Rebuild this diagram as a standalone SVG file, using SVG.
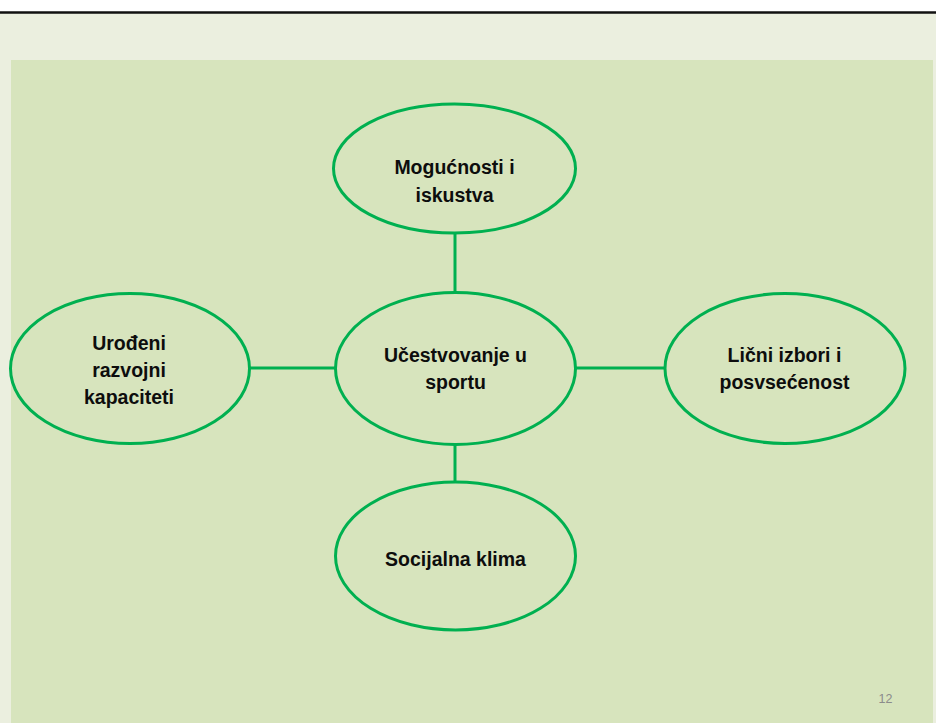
<svg xmlns="http://www.w3.org/2000/svg" width="936" height="723" viewBox="0 0 936 723">
<style>
.n ellipse{fill:#d7e4bd;stroke:#00b050;stroke-width:3}
.n text{font-family:"Liberation Sans",Arial,sans-serif;font-weight:bold;font-size:19.5px;fill:#0d0d0d;text-anchor:middle}
.c line{stroke:#00b050;stroke-width:3}
</style>
<rect x="0" y="0" width="936" height="723" fill="#ffffff"/>
<rect x="0" y="13" width="936" height="710" fill="#ebefdf"/>
<line x1="0" y1="12.5" x2="936" y2="12.5" stroke="#111" stroke-width="2.5"/>
<rect x="11" y="60" width="922" height="663" fill="#d7e4bd"/>
<g class="c" id="connectors">
<line x1="455" y1="233" x2="455" y2="292"/>
<line x1="455" y1="445" x2="455" y2="482"/>
<line x1="250" y1="368" x2="336" y2="368"/>
<line x1="575" y1="368" x2="665" y2="368"/>
</g>
<g class="n" id="node-top">
<ellipse cx="454.5" cy="168.5" rx="121" ry="64.5"/>
<text x="454.5" y="174">Mogućnosti i</text>
<text x="454.5" y="202">iskustva</text>
</g>
<g class="n" id="node-center">
<ellipse cx="455.5" cy="368.5" rx="120" ry="76"/>
<text x="455.5" y="362">Učestvovanje u</text>
<text x="455.5" y="389">sportu</text>
</g>
<g class="n" id="node-left">
<ellipse cx="130" cy="368.5" rx="119.5" ry="75"/>
<text x="129" y="350">Urođeni</text>
<text x="129" y="377">razvojni</text>
<text x="129" y="404">kapaciteti</text>
</g>
<g class="n" id="node-right">
<ellipse cx="785" cy="368.5" rx="120" ry="75"/>
<text x="784.5" y="362">Lični izbori i</text>
<text x="784.5" y="389">posvsećenost</text>
</g>
<g class="n" id="node-bottom">
<ellipse cx="455.5" cy="556" rx="120" ry="74"/>
<text x="455.5" y="566">Socijalna klima</text>
</g>
<text x="885.5" y="703" font-family="'Liberation Sans',Arial,sans-serif" font-size="12.5" fill="#8b8b8b" text-anchor="middle">12</text>
</svg>
